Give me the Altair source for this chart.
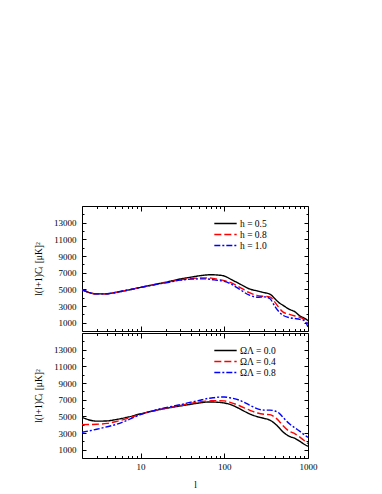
import altair as alt
import pandas as pd

ell = [2, 3, 4, 5, 7, 10, 15, 20, 30, 40, 50, 60, 70, 80, 100, 120, 150, 200,
       250, 300, 350, 400, 450, 500, 600, 700, 800, 900, 1000]

# top panel: Hubble parameter
h05 = [4950, 4450, 4470, 4620, 4900, 5230, 5600, 5850, 6250, 6460, 6620, 6720, 6750, 6730,
       6600, 6200, 5700, 5050, 4800, 4600, 4430, 3900, 3400, 3100, 2600, 2300, 1800, 1550, 1250]
h08 = [4950, 4450, 4470, 4620, 4900, 5230, 5580, 5800, 6150, 6300, 6350, 6370, 6350, 6250,
       6050, 5800, 5300, 4600, 4250, 4150, 4100, 3500, 2800, 2300, 2000, 1800, 1650, 1400, 900]
h10 = [4950, 4450, 4470, 4620, 4900, 5230, 5570, 5780, 6100, 6220, 6250, 6250, 6200, 6100,
       5950, 5650, 5050, 4300, 4050, 4100, 3900, 3000, 2300, 1900, 1600, 1500, 1400, 1250, 500]

# bottom panel: Omega_Lambda
ol00 = [4880, 4420, 4450, 4600, 4900, 5300, 5700, 5950, 6250, 6450, 6600, 6700, 6720, 6700,
        6600, 6400, 5950, 5300, 4950, 4750, 4550, 4150, 3650, 3150, 2600, 2350, 2000, 1650, 1400]
ol04 = [4000, 4050, 4150, 4350, 4750, 5250, 5700, 5980, 6300, 6550, 6720, 6820, 6870, 6880,
        6850, 6650, 6300, 5750, 5400, 5250, 5200, 4900, 4450, 3900, 3200, 2900, 2500, 2100, 1720]
ol08 = [3080, 3450, 3750, 4000, 4550, 5200, 5750, 6050, 6400, 6700, 6900, 7100, 7200, 7280,
        7320, 7200, 6950, 6350, 5900, 5750, 5750, 5650, 5400, 4900, 4100, 3600, 3200, 2800, 2480]

top_labels = ["h = 0.5", "h = 0.8", "h = 1.0"]
bot_labels = ["\u03a9\u039b = 0.0", "\u03a9\u039b = 0.4", "\u03a9\u039b = 0.8"]
colors = ["#000000", "#ff0000", "#0000ff"]
dashes = [[1, 0], [7, 3], [6, 2, 2, 2]]

major_x = [10, 100, 1000]
minor_x = [2, 3, 4, 5, 6, 7, 8, 9, 20, 30, 40, 50, 60, 70, 80, 90,
           200, 300, 400, 500, 600, 700, 800, 900]
y_label_vals = [1000, 3000, 5000, 7000, 9000, 11000, 13000]
y_tick_vals = list(range(1000, 15000, 1000))

W, H = 226, 125
FONT = "Liberation Serif"


def make_df(series, labels):
    rows = []
    for vals, lab in zip(series, labels):
        for l, v in zip(ell, vals):
            rows.append({"ell": l, "val": v, "series": lab})
    return pd.DataFrame(rows)


x_tick_size = {"condition": {"test": "datum.value==10||datum.value==100||datum.value==1000",
                             "value": 5}, "value": 2.5}
y_tick_size = {"condition": {"test": "(datum.value/1000)%2==1", "value": 4}, "value": 2}


def panel(df, labels, show_x):
    xs = alt.Scale(type="log", domain=[2, 1000], nice=False, padding=0)
    ys = alt.Scale(domain=[0, 15000], nice=False, zero=False, padding=0)
    leg = alt.Legend(orient="none", legendX=137, legendY=11, title=None,
                     symbolType="M-2,0H2", symbolSize=125, symbolStrokeWidth=1.5,
                     labelFont=FONT, labelFontSize=9.5, labelColor="black",
                     rowPadding=0, labelOffset=8)
    if show_x:
        xaxis = alt.Axis(orient="bottom", values=major_x, ticks=False, domain=False,
                         labelPadding=4, title="l", titlePadding=8, format="d", grid=False,
                         labelFlush=False)
    else:
        xaxis = None
    lines = alt.Chart(df).mark_line(strokeWidth=1.4, interpolate="monotone", clip=True).encode(
        x=alt.X("ell:Q", scale=xs, axis=xaxis),
        y=alt.Y("val:Q", scale=ys, axis=alt.Axis(
            orient="left", values=y_label_vals, ticks=False, domain=False, grid=False,
            format="d", labelPadding=6, title="l(l+1)C\u2097 [\u03bcK]\u00b2", titlePadding=10)),
        color=alt.Color("series:N", scale=alt.Scale(domain=labels, range=colors), legend=leg),
        strokeDash=alt.StrokeDash("series:N", scale=alt.Scale(domain=labels, range=dashes), legend=leg),
    )

    def ticks(xaxis=None, yaxis=None):
        return alt.Chart(df).mark_point(opacity=0).encode(
            x=alt.X("ell:Q", scale=xs, axis=xaxis),
            y=alt.Y("val:Q", scale=ys, axis=yaxis),
        )

    tx_kw = dict(values=major_x + minor_x, tickSize=x_tick_size, labels=False, domain=False,
                 title=None, grid=False, tickColor="black", offset=-H)
    ty_kw = dict(values=y_tick_vals, tickSize=y_tick_size, labels=False, domain=False,
                 title=None, grid=False, tickColor="black", offset=-W)
    layers = [
        lines,
        ticks(xaxis=alt.Axis(orient="top", **tx_kw)),
        ticks(xaxis=alt.Axis(orient="bottom", **tx_kw)),
        ticks(yaxis=alt.Axis(orient="right", **ty_kw)),
        ticks(yaxis=alt.Axis(orient="left", **ty_kw)),
    ]
    return alt.layer(*layers).resolve_axis(x="independent", y="independent").properties(
        width=W, height=H)


top = panel(make_df([h05, h08, h10], top_labels), top_labels, False)
bot = panel(make_df([ol00, ol04, ol08], bot_labels), bot_labels, True)

chart = alt.vconcat(top, bot, spacing=0).resolve_scale(
    color="independent", strokeDash="independent").resolve_legend(
    color="independent", strokeDash="independent").properties(
    padding={"left": 25, "top": 197, "right": 5, "bottom": 5}, background="white"
).configure_view(stroke="black", strokeWidth=1).configure_axis(
    labelFont=FONT, titleFont=FONT, labelFontSize=9, titleFontSize=9.5,
    labelColor="black", titleColor="black", titleFontWeight="normal"
)

chart.save("out.html", embed_options={"renderer": "svg", "actions": False})
